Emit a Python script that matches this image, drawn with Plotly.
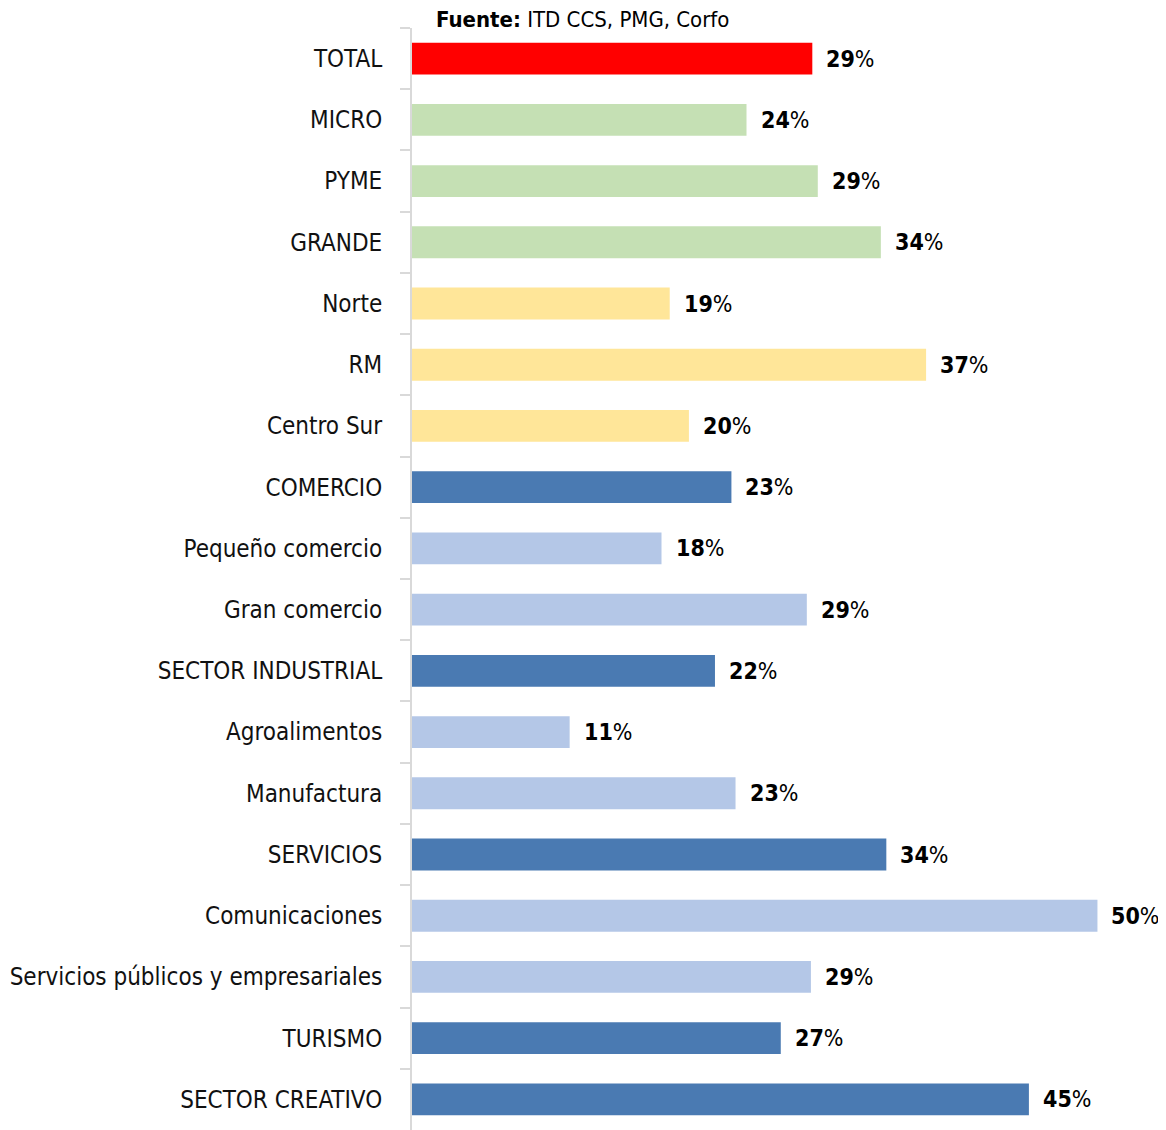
import plotly.graph_objects as go

# --- Data ---
categories = [
    "TOTAL", "MICRO", "PYME", "GRANDE", "Norte", "RM", "Centro Sur",
    "COMERCIO", "Pequeño comercio", "Gran comercio", "SECTOR INDUSTRIAL",
    "Agroalimentos", "Manufactura", "SERVICIOS", "Comunicaciones",
    "Servicios públicos y empresariales", "TURISMO", "SECTOR CREATIVO",
]
values = [
    29.2, 24.4, 29.6, 34.2, 18.8, 37.5, 20.2,
    23.3, 18.2, 28.8, 22.1,
    11.5, 23.6, 34.6, 50.0,
    29.1, 26.9, 45.0,
]
labels = [
    "29", "24", "29", "34", "19", "37", "20",
    "23", "18", "29", "22",
    "11", "23", "34", "50",
    "29", "27", "45",
]
bar_colors = [
    "#FF0000", "#C5E0B4", "#C5E0B4", "#C5E0B4", "#FFE699", "#FFE699", "#FFE699",
    "#4A7AB2", "#B4C7E7", "#B4C7E7", "#4A7AB2",
    "#B4C7E7", "#B4C7E7", "#4A7AB2", "#B4C7E7",
    "#B4C7E7", "#4A7AB2", "#4A7AB2",
]

FONT = "DejaVu Sans Condensed, Roboto, sans-serif"

# page body has an 8px margin, so the figure is a bit smaller than the window
W, H = 1158, 1122
L, T = 404, 20

fig = go.Figure()

fig.add_trace(go.Bar(
    x=values,
    y=categories,
    orientation="h",
    marker=dict(color=bar_colors, line=dict(width=0)),
    showlegend=False,
    hoverinfo="skip",
))

# value labels just right of each bar
for cat, val, lab in zip(categories, values, labels):
    fig.add_annotation(
        x=val, y=cat,
        text=f"<b>{lab}</b>%",
        showarrow=False,
        xanchor="left",
        xshift=12,
        font=dict(family=FONT, size=23, color="#000000"),
    )

# source note above the plot
fig.add_annotation(
    xref="paper", yref="paper",
    x=22 / (W - L), y=1 + 9 / (H - T),
    xanchor="left", yanchor="middle",
    text="<b>Fuente:</b> ITD CCS, PMG, Corfo",
    showarrow=False,
    font=dict(family=FONT, size=22, color="#000000"),
)

fig.update_layout(
    width=W,
    height=H,
    margin=dict(l=L, r=0, t=T, b=0),
    plot_bgcolor="white",
    paper_bgcolor="white",
    bargap=0.48,
    font=dict(family=FONT, size=24, color="#111111"),
)
fig.update_xaxes(
    range=[0, 55],
    visible=False,
    automargin=False,
)
fig.update_yaxes(
    autorange="reversed",
    type="category",
    automargin=False,
    showline=True,
    linecolor="#d9d9d9",
    linewidth=2,
    ticks="outside",
    tickson="boundaries",
    ticklen=10,
    tickcolor="#d9d9d9",
    tickwidth=2,
    ticklabelstandoff=23,
    showgrid=False,
    tickfont=dict(family=FONT, size=24, color="#111111"),
)

fig.write_html("out.html")
